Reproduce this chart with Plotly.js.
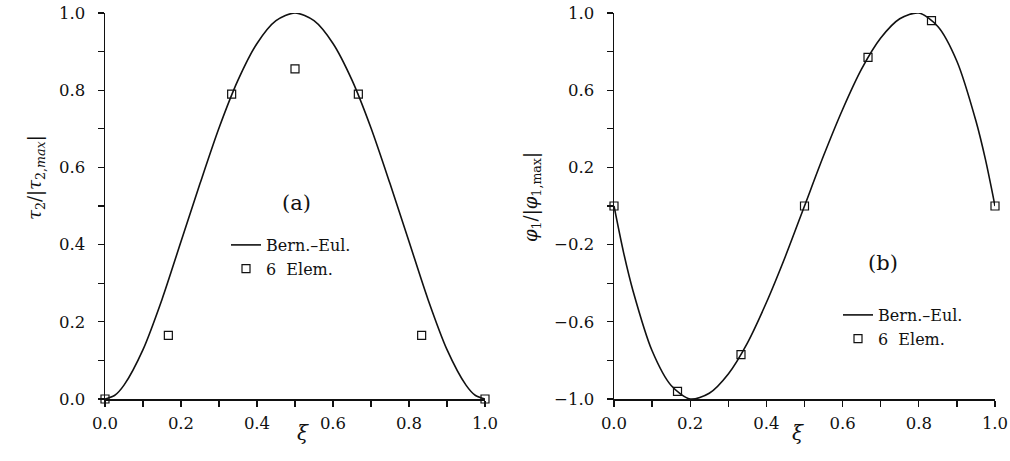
<!DOCTYPE html>
<html>
<head>
<meta charset="utf-8">
<script src="https://cdn.plot.ly/plotly-3.0.1.min.js"></script>
<style>
  html, body { margin: 0; padding: 0; background: #fff; }
  #chart { width: 1010px; height: 461px; }
</style>
</head>
<body>
<div id="chart"></div>
<script>
// ---- data ----
const xiCurve = [0, 0.025, 0.05, 0.10, 0.15, 0.20, 0.25, 0.30, 0.35, 0.40, 0.45, 0.50,
                 0.55, 0.60, 0.65, 0.70, 0.75, 0.80, 0.85, 0.90, 0.95, 0.975, 1.00];
const tauCurve = [0, 0.009, 0.036, 0.128, 0.258, 0.408, 0.558, 0.702, 0.826, 0.921, 0.98, 1.0,
                  0.98, 0.921, 0.826, 0.702, 0.558, 0.408, 0.258, 0.128, 0.036, 0.009, 0];
const phiCurve = [0, -0.24, -0.44, -0.75, -0.93, -1.0, -0.97, -0.87, -0.71, -0.50, -0.26, 0,
                  0.26, 0.50, 0.71, 0.87, 0.97, 1.0, 0.93, 0.75, 0.44, 0.24, 0];

const xiElem = [0, 0.1667, 0.3333, 0.5, 0.6667, 0.8333, 1.0];
const tauElem = [0, 0.165, 0.79, 0.855, 0.79, 0.165, 0];
const phiElem = [0, -0.96, -0.77, 0, 0.77, 0.96, 0];

const lineName = 'Bern.\u2013Eul.';
const elemName = '6&nbsp;&nbsp;Elem.';

// ---- styling ----
const FONT = 'DejaVu Serif, Liberation Serif, serif';
const black = '#111';

const lineStyle = {color: black, width: 1.6, shape: 'spline', smoothing: 0.8};
const markerStyle = {symbol: 'square-open', size: 8, color: black, line: {width: 1.2, color: black}};

const traces = [
  {x: xiCurve, y: tauCurve, xaxis: 'x', yaxis: 'y', mode: 'lines', name: lineName,
   line: lineStyle, legend: 'legend', cliponaxis: false},
  {x: xiElem, y: tauElem, xaxis: 'x', yaxis: 'y', mode: 'markers', name: elemName,
   marker: markerStyle, legend: 'legend', cliponaxis: false},
  {x: xiCurve, y: phiCurve, xaxis: 'x2', yaxis: 'y2', mode: 'lines', name: lineName,
   line: lineStyle, legend: 'legend2', cliponaxis: false},
  {x: xiElem, y: phiElem, xaxis: 'x2', yaxis: 'y2', mode: 'markers', name: elemName,
   marker: markerStyle, legend: 'legend2', cliponaxis: false}
];

function axisBase(extra) {
  return Object.assign({
    showline: true, linecolor: black, linewidth: 1.5,
    ticks: 'outside', ticklen: 6, tickwidth: 1.3, tickcolor: black,
    showgrid: false, zeroline: false, mirror: false,
    tickfont: {family: FONT, size: 16.5, color: black},
    tickformat: '.1f', fixedrange: true, ticklabeloverflow: 'allow'
  }, extra);
}

const W = 1010, H = 461;
const px = v => v / W;
const py = v => 1 - v / H;
const minorX = {dtick: 0.1, ticks: 'outside', ticklen: 6, tickwidth: 1.3, tickcolor: black};

const layout = {
  width: W, height: H,
  margin: {l: 0, r: 0, t: 0, b: 0},
  paper_bgcolor: '#fff', plot_bgcolor: '#fff',
  font: {family: FONT, color: black},
  xaxis: axisBase({domain: [px(105), px(485)], range: [0, 1], anchor: 'y',
    tick0: 0, dtick: 0.2, ticklabelstandoff: 3, minor: minorX}),
  yaxis: axisBase({domain: [py(399), py(13)], range: [0, 1], anchor: 'x',
    tick0: 0, dtick: 0.2, ticklabelstandoff: 9,
    minor: {dtick: 0.1, ticks: 'outside', ticklen: 6, tickwidth: 1.3, tickcolor: black}}),
  xaxis2: axisBase({domain: [px(614), px(995)], range: [0, 1], anchor: 'y2',
    tick0: 0, dtick: 0.2, ticklabelstandoff: 3, minor: minorX}),
  yaxis2: axisBase({domain: [py(399), py(13)], range: [-1, 1], anchor: 'x2',
    tick0: -1, dtick: 0.4, ticklabelstandoff: 9,
    minor: {dtick: 0.2, ticks: 'outside', ticklen: 6, tickwidth: 1.3, tickcolor: black}}),
  legend: {x: px(226), y: py(228), xanchor: 'left', yanchor: 'top',
    bgcolor: 'rgba(0,0,0,0)', font: {family: FONT, size: 16, color: black},
    tracegroupgap: 0, itemwidth: 30},
  legend2: {x: px(838), y: py(298), xanchor: 'left', yanchor: 'top',
    bgcolor: 'rgba(0,0,0,0)', font: {family: FONT, size: 16, color: black},
    tracegroupgap: 0, itemwidth: 30},
  showlegend: true,
  annotations: [
    {text: '<i>τ</i><sub>2</sub>/|<i>τ</i><sub>2,<i>max</i></sub>|', textangle: -90,
     xref: 'paper', yref: 'paper', x: px(22), y: py(178), showarrow: false,
     font: {family: FONT, size: 18, color: black}},
    {text: '<i>φ</i><sub>1</sub>/|<i>φ</i><sub>1,max</sub>|', textangle: -90,
     xref: 'paper', yref: 'paper', x: px(532), y: py(150), showarrow: false,
     font: {family: FONT, size: 18, color: black}},
    {text: '<i>ξ</i>', xref: 'paper', yref: 'paper', x: px(295), y: py(447),
     showarrow: false, font: {family: FONT, size: 20, color: black}},
    {text: '<i>ξ</i>', xref: 'paper', yref: 'paper', x: px(806), y: py(447),
     showarrow: false, font: {family: FONT, size: 20, color: black}},
    {text: '(a)', xref: 'paper', yref: 'paper', x: px(280), y: py(203),
     showarrow: false, font: {family: FONT, size: 21, color: black}},
    {text: '(b)', xref: 'paper', yref: 'paper', x: px(900), y: py(263),
     showarrow: false, font: {family: FONT, size: 21, color: black}}
  ]
};

Plotly.newPlot('chart', traces, layout, {displayModeBar: false, staticPlot: true});
</script>
</body>
</html>
